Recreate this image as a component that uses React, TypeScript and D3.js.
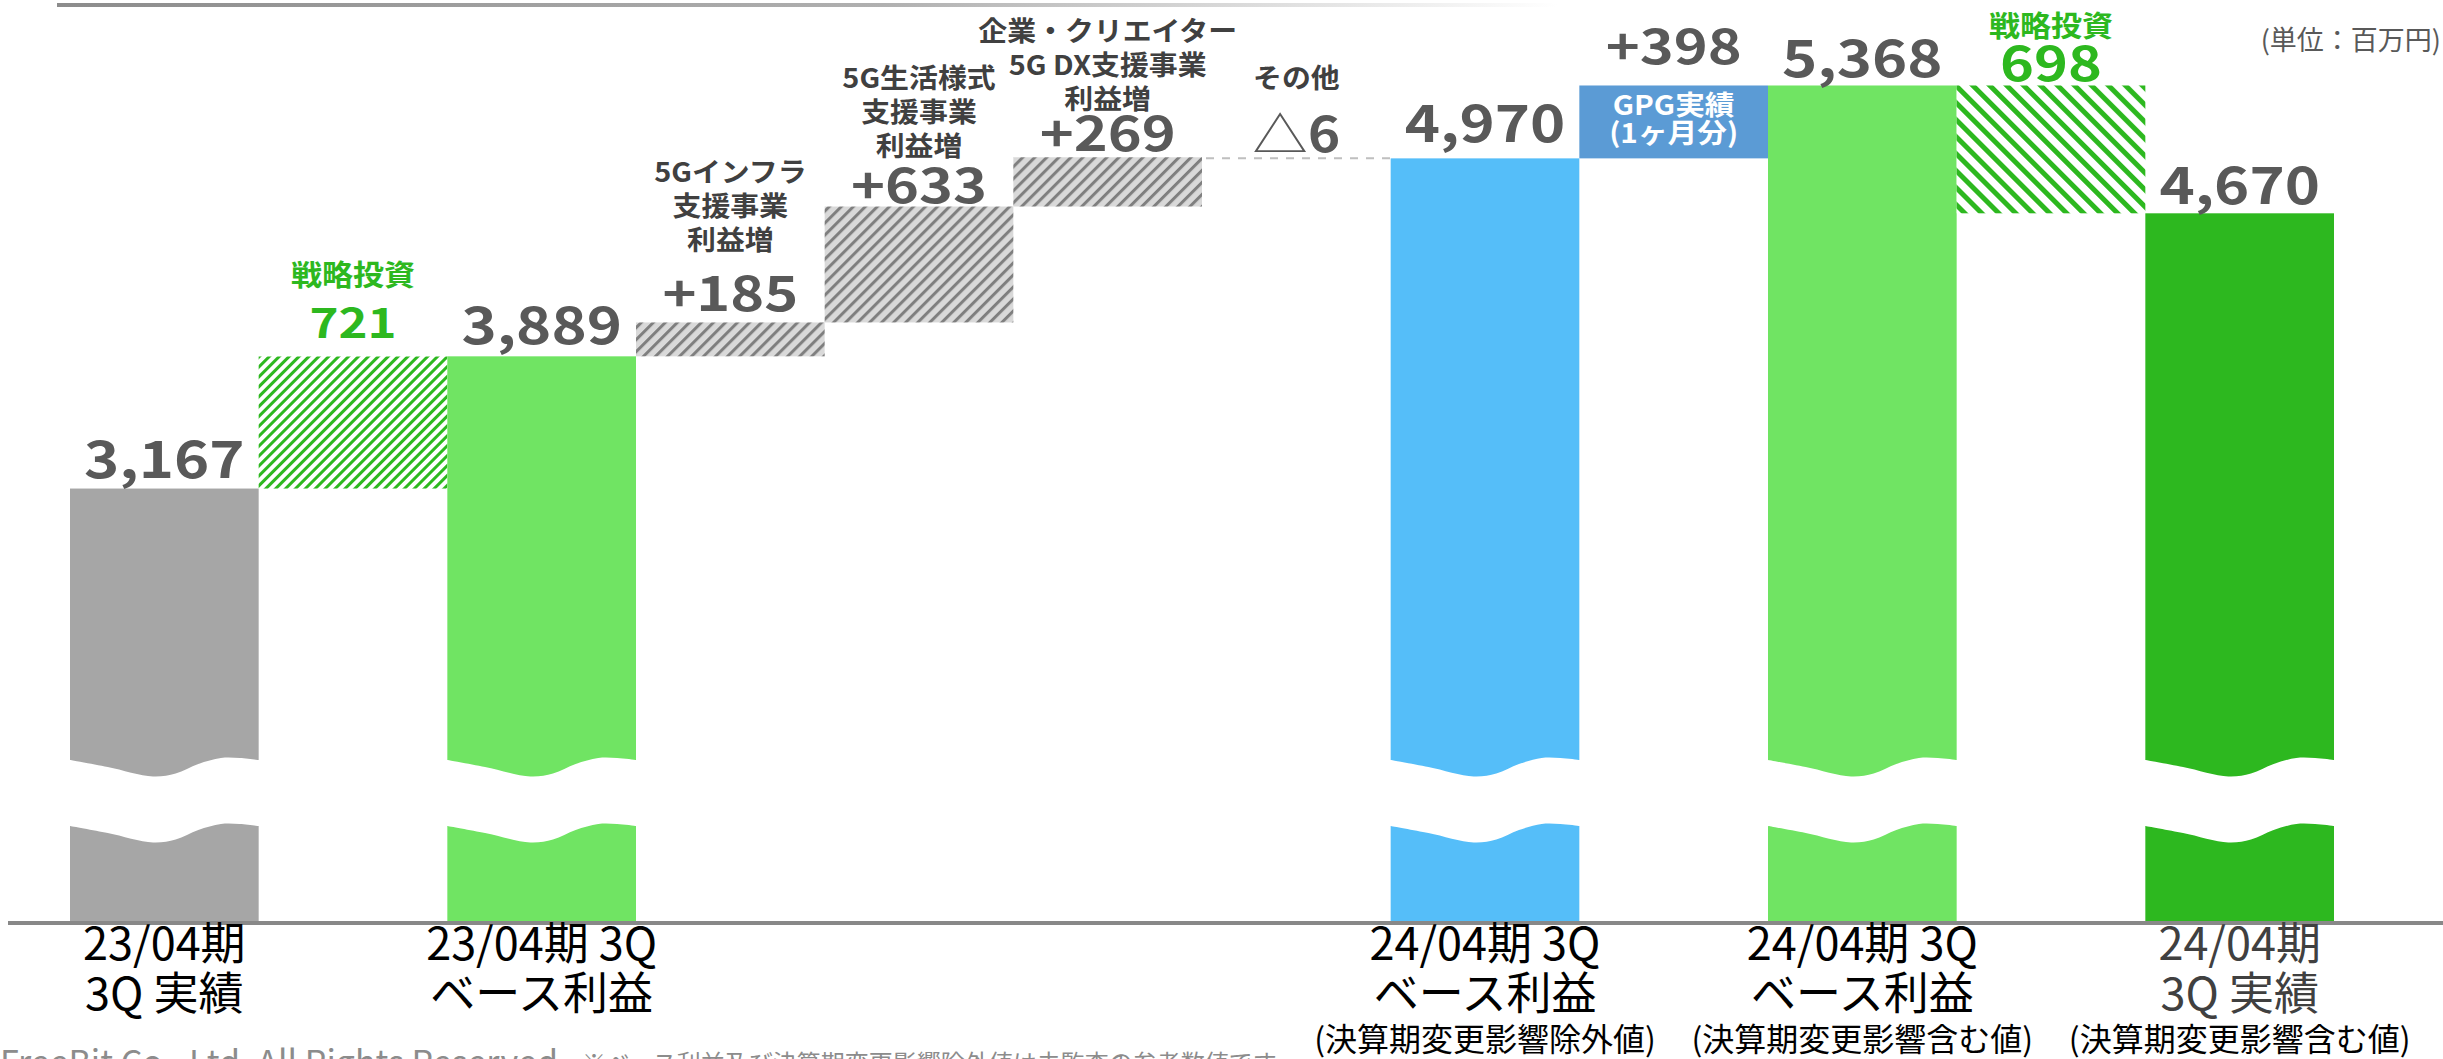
import React from "react";
import * as d3 from "d3";

const W = 2443;
const H = 1059;

// ---- data ----
const stepNames = [
  "23/04期 3Q 実績", "戦略投資", "23/04期 3Q ベース利益", "5Gインフラ支援事業利益増",
  "5G生活様式支援事業利益増", "企業・クリエイター5G DX支援事業利益増", "その他",
  "24/04期 3Q ベース利益(除外値)", "GPG実績", "24/04期 3Q ベース利益(含む値)", "戦略投資", "24/04期 3Q 実績",
];
const stepKinds = ["total", "invest", "total", "delta", "delta", "delta", "other", "total", "gpg", "total", "investDown", "total"];
const stepValues = [3167, 721, 3889, 185, 633, 269, -6, 4970, 398, 5368, -698, 4670];
const valueLabels = ["3,167", "721", "3,889", "+185", "+633", "+269", "6", "4,970", "+398", "5,368", "698", "4,670"];
const descLines: string[][] = [
  [], ["戦略投資"], [], ["5Gインフラ", "支援事業", "利益増"], ["5G生活様式", "支援事業", "利益増"],
  ["企業・クリエイター", "5G DX支援事業", "利益増"], ["その他"], [], [], [], ["戦略投資"], [],
];
const axisLines: string[][] = [
  ["23/04期", "3Q 実績"], [], ["23/04期 3Q", "ベース利益"], [], [], [], [],
  ["24/04期 3Q", "ベース利益", "(決算期変更影響除外値)"], [],
  ["24/04期 3Q", "ベース利益", "(決算期変更影響含む値)"], [],
  ["24/04期", "3Q 実績", "(決算期変更影響含む値)"],
];
const gpgLines = ["GPG実績", "(1ヶ月分)"];
const unitLabel = "(単位：百万円)";
const footerLeft = "FreeBit Co., Ltd. All Rights Reserved.";
const footerNote = "※ベース利益及び決算期変更影響除外値は未監査の参考数値です。";

// ---- layout / style (not data) ----
const vGap = [11, 19, 12, 11, 4, 6, 5, 16, 21, 8, 4, 9];
const dGap = [0, 52, 0, 61, 47, 42, 64, 0, 0, 0, 44, 0];
const valueSize = [52, 41, 52, 48, 48, 48, 48, 52, 48, 52, 48, 52];
const FONT = "'Noto Sans CJK JP', 'Noto Sans', sans-serif";
const C = {
  gpg: "#5b9bd5",
  darkGreen: "#2db81f",
  text: "#595959",
  desc: "#404040",
};
const totalColors = ["#a6a6a6", "", "#70e463", "", "", "", "", "#55bef9", "", "#70e463", "", "#2db81f"];

const x = d3.scaleBand<number>().domain(d3.range(stepValues.length)).range([70, 2334]).padding(0);
const y = d3.scaleLinear().domain([800, 5600]).range([922, 43]);

type Seg = { from: number; to: number };
const segs: Seg[] = (() => {
  let level = 0;
  return stepValues.map((v, i) => {
    const k = stepKinds[i];
    if (k === "total") {
      level = v;
      return { from: y.domain()[0], to: v };
    }
    const s = { from: level, to: level + v };
    level = level + v;
    return s;
  });
})();

const waveShape: [number, number][] = [
  [0, 0], [0.2, 7], [0.44, 16.5], [0.56, 13.5], [0.68, 4], [0.8, -2], [0.9, -2], [1, 0],
];

function wavePath(x0: number, w: number, yU: number, yL: number) {
  const up = waveShape.map(([t, f]) => [x0 + t * w, yU + f] as [number, number]);
  const lo = waveShape.map(([t, f]) => [x0 + t * w, yL + f] as [number, number]).reverse();
  const line = d3.line().curve(d3.curveCatmullRom.alpha(0.5));
  const a = line(up) as string;
  const b = (line(lo) as string).replace(/^M/, "L");
  return `M${x0 - 1},${yU}` + a.replace(/^M/, "L") + `L${x0 + w + 1},${yU}L${x0 + w + 1},${yL}` + b + `L${x0 - 1},${yL}Z`;
}

const T = (p: {
  x: number; y: number; size: number; weight?: number; fill?: string; sx?: number; anchor?: string; children: React.ReactNode;
}) => (
  <text
    transform={`translate(${p.x},${p.y}) scale(${p.sx ?? 1},1)`}
    fontSize={p.size}
    fontWeight={p.weight ?? 700}
    fill={p.fill ?? C.text}
    textAnchor={p.anchor ?? "middle"}
    fontFamily={FONT}
  >
    {p.children}
  </text>
);

export default function App() {
  const bw = x.bandwidth();
  const base = y(y.domain()[0]);
  return (
    <div style={{ position: "absolute", left: 0, top: 0 }}>
      <svg width={W} height={H} style={{ display: "block", background: "#fff" }}>
        <defs>
          <linearGradient id="fade" x1="0" x2="1" y1="0" y2="0">
            <stop offset="0" stopColor="#8c8c8c" />
            <stop offset="0.55" stopColor="#b0b0b0" />
            <stop offset="1" stopColor="#ffffff" />
          </linearGradient>
          <pattern id="hGray" width="8.5" height="8.5" patternUnits="userSpaceOnUse" patternTransform="rotate(45)">
            <rect width="8.5" height="8.5" fill="#d9d9d9" />
            <rect width="3" height="8.5" fill="#7f7f7f" />
          </pattern>
          <pattern id="hGreen" width="7" height="7" patternUnits="userSpaceOnUse" patternTransform="rotate(45)">
            <rect width="7" height="7" fill="#ffffff" />
            <rect width="3" height="7" fill={C.darkGreen} />
          </pattern>
          <pattern id="hGreen2" width="12" height="12" patternUnits="userSpaceOnUse" patternTransform="rotate(-45)">
            <rect width="12" height="12" fill="#ffffff" />
            <rect width="5" height="12" fill={C.darkGreen} />
          </pattern>
        </defs>

        <rect x={57} y={3} width={1500} height={4} fill="url(#fade)" />

        {segs.map((s, i) => {
          const k = stepKinds[i];
          const x0 = x(i)!;
          const yTop = Math.min(y(s.from), y(s.to));
          const yBot = Math.max(y(s.from), y(s.to));
          if (k === "total") {
            return (
              <g key={i}>
                <rect x={x0} y={yTop} width={bw} height={base - yTop} fill={totalColors[i]} />
                <path d={wavePath(x0, bw, 760, 826)} fill="#fff" />
              </g>
            );
          }
          if (k === "other") {
            return (
              <line key={i} x1={x0 + 4} x2={x0 + bw} y1={y(s.to)} y2={y(s.to)} stroke="#bfbfbf" strokeWidth={2} strokeDasharray="8 8" />
            );
          }
          const fill = k === "delta" ? "url(#hGray)" : k === "invest" ? "url(#hGreen)" : k === "investDown" ? "url(#hGreen2)" : C.gpg;
          return <rect key={i} x={x0} y={yTop} width={bw} height={yBot - yTop} fill={fill} />;
        })}

        {(() => {
          const i = stepKinds.indexOf("gpg");
          const cx = x(i)! + bw / 2;
          const cy = (y(segs[i].from) + y(segs[i].to)) / 2;
          return gpgLines.map((t, j) => (
            <T key={j} x={cx} y={cy - 7 + j * 28} size={27} fill="#ffffff" sx={1.1}>{t}</T>
          ));
        })()}

        {segs.map((s, i) => {
          const k = stepKinds[i];
          const cx = x(i)! + bw / 2;
          const yTop = Math.min(y(s.from), y(s.to));
          const vb = yTop - vGap[i];
          const green = k === "invest" || k === "investDown";
          const vFill = green ? C.darkGreen : C.text;
          const lines = descLines[i];
          const lastB = vb - dGap[i];
          const step = green ? 0 : 34;
          const sx = k === "total" ? 1.15 : 1.2;
          return (
            <g key={i}>
              {k === "other" ? (
                <text transform={`translate(${cx},${vb}) scale(1.15,1)`} fontSize={valueSize[i]} fill={C.text} textAnchor="middle" fontFamily={FONT}>
                  <tspan fontWeight={400}>△</tspan>
                  <tspan fontWeight={700}>{valueLabels[i]}</tspan>
                </text>
              ) : (
                <T x={cx} y={vb} size={valueSize[i]} fill={vFill} sx={sx}>{valueLabels[i]}</T>
              )}
              {lines.map((t, j) => (
                <T key={j} x={cx} y={lastB - (lines.length - 1 - j) * step} size={green ? 29 : 27} fill={green ? C.darkGreen : C.desc} sx={1.07}>
                  {t}
                </T>
              ))}
            </g>
          );
        })}

        <rect x={8} y={base - 1} width={W} height={4} fill="#888888" />

        {axisLines.map((lines, i) => {
          const cx = x(i)! + bw / 2;
          const isLast = i === axisLines.length - 1;
          return lines.map((t, j) => (
            <T
              key={`${i}-${j}`}
              x={cx}
              y={j < 2 ? 960 + j * 50 : 1051}
              size={j < 2 ? 45 : 32}
              weight={400}
              fill={isLast && j < 2 ? "#404040" : "#000000"}
            >
              {t}
            </T>
          ));
        })}

        <T x={2441} y={50} size={27} weight={400} anchor="end" fill={C.text}>{unitLabel}</T>

        <T x={0} y={1075} size={34} weight={400} anchor="start" fill="#8c8c8c">{footerLeft}</T>
        <T x={582} y={1072} size={24} weight={400} anchor="start" fill="#8c8c8c">{footerNote}</T>
      </svg>
    </div>
  );
}
